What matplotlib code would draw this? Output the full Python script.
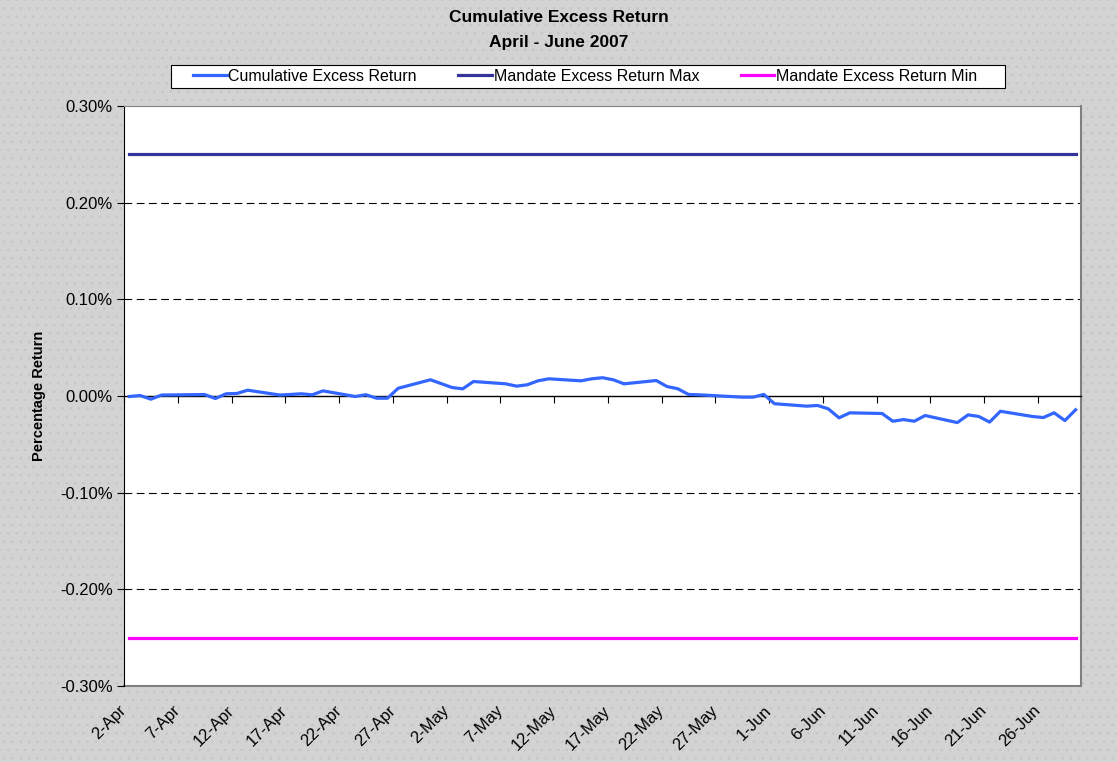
#!/usr/bin/env python
"""Cumulative excess return vs mandate limits, April - June 2007."""

from datetime import date, timedelta

import matplotlib

matplotlib.use("Agg")
import matplotlib.pyplot as plt
from matplotlib.patches import Rectangle
from matplotlib.ticker import FuncFormatter

# ---- data (values in percent) ----
trade_dates = [
    "2007-04-02", "2007-04-03", "2007-04-04", "2007-04-05", "2007-04-09",
    "2007-04-10", "2007-04-11", "2007-04-12", "2007-04-13", "2007-04-16",
    "2007-04-17", "2007-04-18", "2007-04-19", "2007-04-20", "2007-04-23",
    "2007-04-24", "2007-04-25", "2007-04-26", "2007-04-27", "2007-04-30",
    "2007-05-01", "2007-05-02", "2007-05-03", "2007-05-04", "2007-05-07",
    "2007-05-08", "2007-05-09", "2007-05-10", "2007-05-11", "2007-05-14",
    "2007-05-15", "2007-05-16", "2007-05-17", "2007-05-18", "2007-05-21",
    "2007-05-22", "2007-05-23", "2007-05-24", "2007-05-25", "2007-05-29",
    "2007-05-30", "2007-05-31", "2007-06-01", "2007-06-04", "2007-06-05",
    "2007-06-06", "2007-06-07", "2007-06-08", "2007-06-11", "2007-06-12",
    "2007-06-13", "2007-06-14", "2007-06-15", "2007-06-18", "2007-06-19",
    "2007-06-20", "2007-06-21", "2007-06-22", "2007-06-25", "2007-06-26",
    "2007-06-27", "2007-06-28", "2007-06-29",
]
cumulative_excess = [
    -0.0005, 0.0005, -0.0033, 0.0010, 0.0015,
    -0.0026, 0.0023, 0.0026, 0.0060, 0.0010,
    0.0016, 0.0023, 0.0012, 0.0053, -0.0005,
    0.0013, -0.0023, -0.0023, 0.0080, 0.0168,
    0.0128, 0.0088, 0.0074, 0.0150, 0.0126,
    0.0102, 0.0116, 0.0157, 0.0178, 0.0157,
    0.0178, 0.0189, 0.0168, 0.0126, 0.0160,
    0.0098, 0.0075, 0.0016, 0.0012, -0.0012,
    -0.0012, 0.0016, -0.0080, -0.0105, -0.0098,
    -0.0133, -0.0226, -0.0174, -0.0181, -0.0261,
    -0.0244, -0.0261, -0.0202, -0.0275, -0.0195,
    -0.0212, -0.0270, -0.0158, -0.0212, -0.0223,
    -0.0174, -0.0254, -0.0143,
]
mandate_max = 0.25
mandate_min = -0.25
axis_start = date(2007, 4, 2)
axis_end = date(2007, 6, 29)
tick_step_days = 5

plt.rcParams["font.family"] = ["Liberation Sans", "DejaVu Sans"]
plt.rcParams["hatch.color"] = "#c4c4c4"
plt.rcParams["hatch.linewidth"] = 0.5

W, H = 1117, 762
day_offsets = [(date.fromisoformat(d) - axis_start).days for d in trade_dates]
n_days = (axis_end - axis_start).days

fig = plt.figure(figsize=(W / 100, H / 100), dpi=100)
fig.patch.set_facecolor("#d3d3d3")
fig.patches.append(
    Rectangle((0, 0), 1, 1, transform=fig.transFigure, facecolor="#d3d3d3",
              edgecolor="#c4c4c4", hatch="..", linewidth=0, zorder=-10)
)

ax = fig.add_axes([124 / W, 76 / H, 957 / W, 580 / H])
ax.set_facecolor("white")

ax.plot(day_offsets, cumulative_excess, color="#3366ff", lw=2.3,
        label="Cumulative Excess Return", zorder=4)
ax.plot(day_offsets, [mandate_max] * len(day_offsets), color="#333399", lw=2.3,
        label="Mandate Excess Return Max", zorder=3)
ax.plot(day_offsets, [mandate_min] * len(day_offsets), color="#ff00ff", lw=2.3,
        label="Mandate Excess Return Min", zorder=3)

ax.set_xlim(-0.5, n_days + 0.5)
ax.set_ylim(-0.30, 0.30)
ax.set_yticks([-0.30, -0.20, -0.10, 0.0, 0.10, 0.20, 0.30])
ax.yaxis.set_major_formatter(FuncFormatter(lambda v, _: f"{v:.2f}%"))
ax.tick_params(axis="y", length=5, width=0.8, direction="out", labelsize=12, pad=3)
for yv in [-0.20, -0.10, 0.10, 0.20]:
    ax.axhline(yv, color="black", lw=0.8, ls=(0, (7, 4)), zorder=1)

# category axis crosses at zero, tick marks hang below it
tick_days = list(range(0, n_days, tick_step_days))
tick_pos = [d - 0.5 for d in tick_days]
tick_labels = [
    f"{(axis_start + timedelta(days=d)).day}-{(axis_start + timedelta(days=d)).strftime('%b')}"
    for d in tick_days
]
ax.spines["bottom"].set_position(("data", 0))
ax.spines["bottom"].set_color("black")
ax.spines["bottom"].set_linewidth(1.0)
ax.set_xticks(tick_pos)
ax.tick_params(axis="x", length=5, width=0.8, direction="out", labelbottom=False)
ax.spines["left"].set_color("black")
ax.spines["top"].set_color("#808080")
ax.spines["right"].set_color("#808080")
ax.spines["right"].set_linewidth(1.5)

sec = ax.secondary_xaxis("bottom")
sec.set_xticks(tick_pos)
sec.set_xticklabels(tick_labels, rotation=45, ha="right", va="center",
                    rotation_mode="anchor", fontsize=12)
sec.tick_params(length=0, pad=16)
sec.spines["bottom"].set_color("#808080")
sec.spines["bottom"].set_linewidth(1.5)

ax.set_ylabel("Percentage Return", fontsize=10.5, fontweight="bold", labelpad=10)

fig.text(0.5, 1 - 18 / H, "Cumulative Excess Return", ha="center", va="center",
         fontsize=12.5, fontweight="bold")
fig.text(0.5, 1 - 42 / H, "April - June 2007", ha="center", va="center",
         fontsize=12.5, fontweight="bold")

# legend box drawn separately so its size matches the chart's frame
fig.patches.append(
    Rectangle((171 / W, 1 - 88 / H), 834 / W, 23 / H, transform=fig.transFigure,
              facecolor="white", edgecolor="black", linewidth=0.8, zorder=1)
)
leg = fig.legend(loc="center", ncol=3, bbox_to_anchor=(585 / W, 1 - 76.5 / H),
                 fontsize=11.5, frameon=False, handlelength=2.1, handletextpad=0.1,
                 columnspacing=2.6, borderpad=0.2, borderaxespad=0)
leg.set_zorder(5)

fig.savefig("out.png", dpi=100, facecolor=fig.get_facecolor())
